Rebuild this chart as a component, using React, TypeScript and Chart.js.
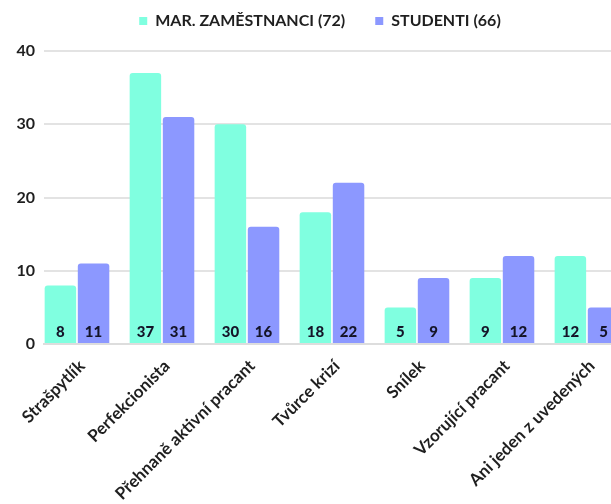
import React, { useEffect, useRef } from "react";
import { Chart, registerables } from "chart.js";

Chart.register(...registerables);

const categories = [
  "Strašpytlík",
  "Perfekcionista",
  "Přehnaně aktivní pracant",
  "Tvůrce krizí",
  "Snílek",
  "Vzorující pracant",
  "Ani jeden z uvedených",
];
const seriesNames = ["MAR. ZAMĚSTNANCI (72)", "STUDENTI (66)"];
const employees = [8, 37, 30, 18, 5, 9, 12];
const students = [11, 31, 16, 22, 9, 12, 5];
const yTicks = [0, 10, 20, 30, 40];

const TEAL = "#80FFE0";
const PURPLE = "#8C98FF";
const FONT = "Lato";
const TEXT = "#1f1f1f";

const valueLabels = {
  id: "valueLabels",
  afterDatasetsDraw(chart: any) {
    const ctx = chart.ctx;
    const bottom = chart.scales.y.getPixelForValue(0);
    ctx.save();
    ctx.font = `900 15px ${FONT}`;
    ctx.fillStyle = "#141428";
    ctx.textAlign = "center";
    ctx.textBaseline = "middle";
    chart.data.datasets.forEach((ds: any, di: number) => {
      const meta = chart.getDatasetMeta(di);
      meta.data.forEach((bar: any, i: number) => {
        ctx.fillText(String(ds.data[i].y), bar.x, bottom - 12);
      });
    });
    ctx.restore();
  },
};

export default function App() {
  const ref = useRef<HTMLCanvasElement | null>(null);
  useEffect(() => {
    document.body.style.margin = "0";
    document.body.style.overflow = "hidden";
    const canvas = ref.current!;
    const chart = new Chart(canvas, {
      type: "bar",
      data: {
        datasets: [
          {
            label: seriesNames[0],
            data: employees.map((v, i) => ({ x: i, y: v })),
            backgroundColor: TEAL,
            borderRadius: { topLeft: 3, topRight: 3, bottomLeft: 0, bottomRight: 0 },
            borderSkipped: "bottom",
            categoryPercentage: 0.78,
            barPercentage: 0.95,
          },
          {
            label: seriesNames[1],
            data: students.map((v, i) => ({ x: i, y: v })),
            backgroundColor: PURPLE,
            borderRadius: { topLeft: 3, topRight: 3, bottomLeft: 0, bottomRight: 0 },
            borderSkipped: "bottom",
            categoryPercentage: 0.78,
            barPercentage: 0.95,
          },
        ],
      },
      options: {
        animation: false,
        responsive: false,
        layout: { padding: { top: -17, right: 0, left: 0, bottom: 0 } },
        plugins: {
          legend: {
            position: "top",
            labels: {
              boxWidth: 8,
              boxHeight: 8,
              padding: 30,
              color: TEXT,
              font: { family: FONT, size: 16, weight: "bold" },
            },
          },
          subtitle: {
            display: true,
            text: "",
            position: "top",
            weight: 500,
            padding: 0,
            font: { size: 12, lineHeight: 1 },
          } as any,
          tooltip: { enabled: false },
        },
        scales: {
          x: {
            type: "linear",
            min: -0.388,
            max: 6.624,
            offset: false,
            grid: { display: false, drawTicks: false },
            border: { display: true, color: "#dddddd", width: 2 },
            afterBuildTicks: (scale: any) => {
              scale.ticks = categories.map((_, i) => ({ value: i }));
            },
            afterFit: (scale: any) => {
              scale.height = 160;
              scale.paddingLeft = 0;
              scale.paddingRight = 0;
            },
            ticks: {
              autoSkip: false,
              minRotation: 45,
              maxRotation: 45,
              padding: 12,
              labelOffset: 5,
              color: TEXT,
              font: { family: FONT, size: 17, weight: "bold" },
              callback: (v: any) => categories[v] ?? "",
            },
          },
          y: {
            min: 0,
            max: 40,
            afterBuildTicks: (scale: any) => {
              scale.ticks = yTicks.map((v) => ({ value: v }));
            },
            afterFit: (scale: any) => {
              scale.width = 44;
            },
            grid: { color: "#e3e3e3", lineWidth: 2, drawTicks: false },
            border: { display: false },
            ticks: {
              padding: 9,
              color: TEXT,
              font: { family: FONT, size: 16, weight: "bold" },
            },
          },
        },
      },
      plugins: [valueLabels],
    });
    return () => chart.destroy();
  }, []);
  return (
    <div style={{ width: 611, height: 504, overflow: "hidden" }}>
      <canvas ref={ref} width={640} height={504} style={{ display: "block" }} />
    </div>
  );
}
